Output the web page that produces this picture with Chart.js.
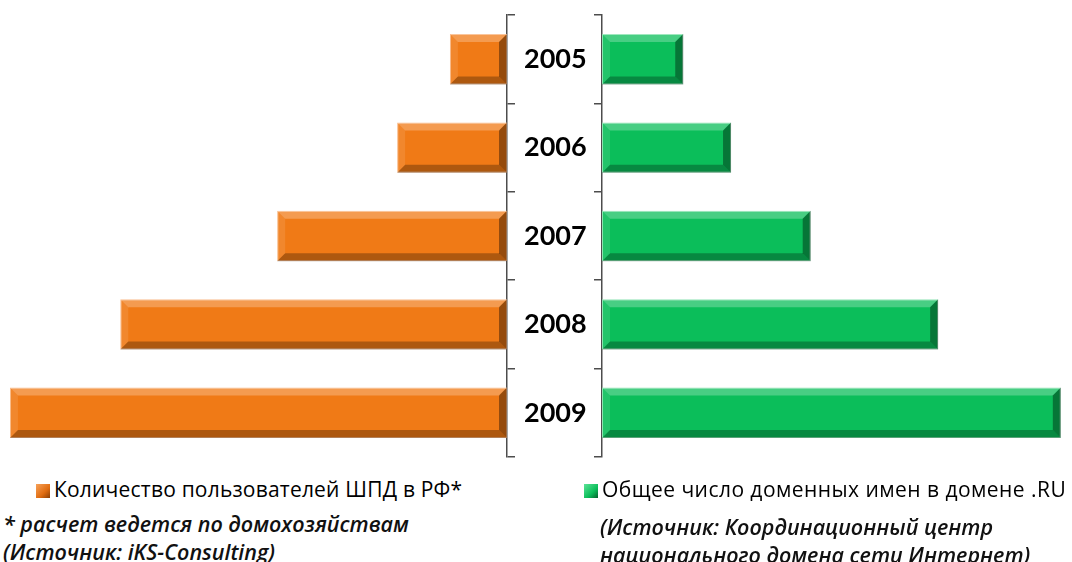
<!DOCTYPE html>
<html>
<head>
<meta charset="utf-8">
<script src="https://cdn.jsdelivr.net/npm/chart.js@4"></script>
<style>
    body { margin: 0; width: 1072px; height: 562px; background: #fff; overflow: hidden; position: relative; font-family: "Open Sans", sans-serif; }
    #leftWrap { position: absolute; left: 0; top: 0; width: 602px; height: 470px; }
    #rightWrap { position: absolute; left: 560px; top: 0; width: 512px; height: 470px; }
    .legend { position: absolute; font-size: 21px; color: #000; white-space: nowrap; }
    .legend .box { display: inline-block; width: 14px; height: 14px; margin-right: 4px; vertical-align: -1px; }
    .note { position: absolute; font-size: 21.5px; font-style: italic; font-weight: 600; color: #111; white-space: nowrap; }
</style>
</head>
<body>
<div id="leftWrap"><canvas id="leftChart"></canvas></div>
<div id="rightWrap"><canvas id="rightChart"></canvas></div>

<div class="legend" style="left:36px; top:475px; letter-spacing:0.2px;"><span class="box" style="background:linear-gradient(135deg,#f7a25a,#e06c10 60%,#8a3f05);"></span>Количество пользователей ШПД в РФ*</div>
<div class="legend" style="left:584px; top:475px; letter-spacing:0.45px;"><span class="box" style="background:linear-gradient(135deg,#5de398,#0bbe5a 60%,#05612d);"></span>Общее число доменных имен в домене .RU</div>
<div class="note" style="left:3px; top:509px;">* расчет ведется по домохозяйствам</div>
<div class="note" style="left:3px; top:537px;">(Источник: iKS-Consulting)</div>
<div class="note" style="left:600px; top:512px;">(Источник: Координационный центр</div>
<div class="note" style="left:600px; top:540px;">национального домена сети Интернет)</div>

<script>
    // Data
    const years = ['2005', '2006', '2007', '2008', '2009'];
    const broadbandUsers = [1.3, 2.5, 5.23, 8.8, 11.31];     // млн домохозяйств (оценка)
    const ruDomains = [0.51, 0.81, 1.31, 2.11, 2.88];       // млн доменов (оценка)

    const ORANGE = '#f07a16';
    const GREEN = '#0bbe5a';

    // bevel look like the Excel bars
    const bevelPlugin = {
        id: 'bevel',
        afterDatasetsDraw(chart) {
            const ctx = chart.ctx;
            const b = 8;
            chart.getDatasetMeta(0).data.forEach(bar => {
                const p = bar.getProps(['x', 'y', 'base', 'height'], true);
                const l = Math.min(p.x, p.base), r = Math.max(p.x, p.base);
                const t = p.y - p.height / 2, btm = p.y + p.height / 2;
                const poly = (pts, color) => {
                    ctx.beginPath();
                    ctx.moveTo(pts[0][0], pts[0][1]);
                    pts.slice(1).forEach(q => ctx.lineTo(q[0], q[1]));
                    ctx.closePath();
                    ctx.fillStyle = color;
                    ctx.fill();
                };
                ctx.save();
                poly([[l, t], [r, t], [r - b, t + b], [l + b, t + b]], 'rgba(255,255,255,0.25)');
                poly([[l, btm], [r, btm], [r - b, btm - b], [l + b, btm - b]], 'rgba(0,0,0,0.28)');
                poly([[l, t], [l + b, t + b], [l + b, btm - b], [l, btm]], 'rgba(255,255,255,0.10)');
                poly([[r, t], [r - b, t + b], [r - b, btm - b], [r, btm]], 'rgba(0,0,0,0.38)');
                ctx.restore();
            });
        }
    };

    const baseOptions = {
        indexAxis: 'y',
        responsive: true,
        maintainAspectRatio: false,
        animation: false,
        plugins: { legend: { display: false }, tooltip: { enabled: false } }
    };

    new Chart(document.getElementById('leftChart'), {
        type: 'bar',
        data: {
            labels: years,
            datasets: [{
                label: 'Количество пользователей ШПД в РФ*',
                data: broadbandUsers,
                backgroundColor: ORANGE,
                borderColor: '#f9b27a',
                borderWidth: 1,
                borderSkipped: false,
                barPercentage: 0.57,
                categoryPercentage: 1
            }]
        },
        options: {
            ...baseOptions,
            layout: { padding: { left: 6, top: 15, bottom: 13, right: 0 } },
            scales: {
                x: { display: false, reverse: true, min: 0, max: 11.4 },
                y: {
                    position: 'right',
                    afterFit: s => { s.width = 95; s.paddingTop = 0; s.paddingBottom = 0; },
                    border: { color: '#4d4d4d', width: 1.5 },
                    grid: { drawOnChartArea: false, tickLength: 8, color: '#4d4d4d', lineWidth: 1.5 },
                    ticks: {
                        crossAlign: 'center',
                        padding: 9,
                        color: '#000',
                        font: { family: 'Lato', size: 27, weight: 'bold' }
                    }
                }
            }
        },
        plugins: [bevelPlugin]
    });

    new Chart(document.getElementById('rightChart'), {
        type: 'bar',
        data: {
            labels: years,
            datasets: [{
                label: 'Общее число доменных имен в домене .RU',
                data: ruDomains,
                backgroundColor: GREEN,
                borderColor: '#7fe0a8',
                borderWidth: 1,
                borderSkipped: false,
                barPercentage: 0.57,
                categoryPercentage: 1
            }]
        },
        options: {
            ...baseOptions,
            layout: { padding: { left: 0, top: 15, bottom: 13, right: 8 } },
            scales: {
                x: { display: false, min: 0, max: 2.9 },
                y: {
                    position: 'left',
                    afterFit: s => { s.width = 42; },
                    border: { color: '#4d4d4d', width: 1.5 },
                    grid: { drawOnChartArea: false, tickLength: 8, color: '#4d4d4d', lineWidth: 1.5 },
                    ticks: { display: false }
                }
            }
        },
        plugins: [bevelPlugin]
    });
</script>
</body>
</html>
